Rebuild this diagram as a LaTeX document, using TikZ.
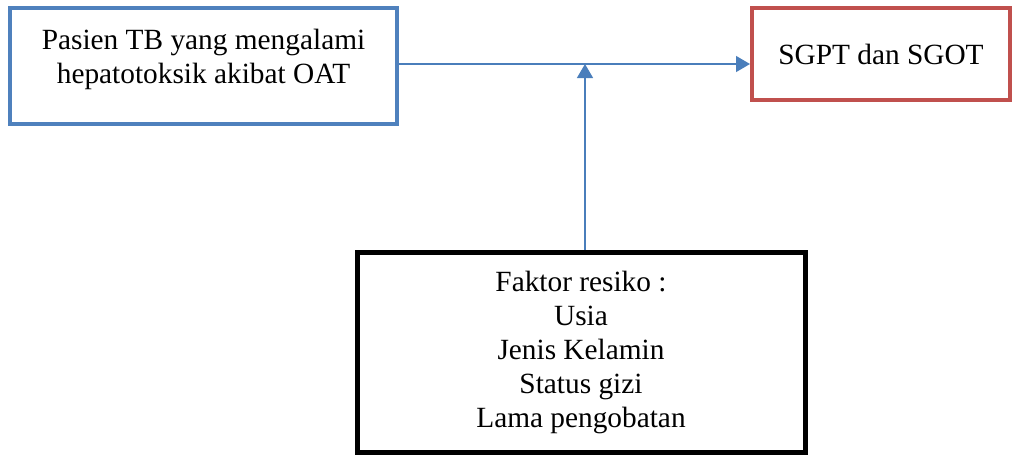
\documentclass[tikz,border=0pt]{standalone}
\usepackage{fontspec}
\setmainfont{Liberation Serif}
\usepackage{tikz}
\usetikzlibrary{arrows.meta}
\usetikzlibrary{positioning}
\definecolor{boxblue}{HTML}{4F81BD}
\definecolor{boxred}{HTML}{C0504D}
\definecolor{lineblue}{HTML}{4A7EBB}

\begin{document}
\begin{tikzpicture}[
x=0.75pt, y=-0.75pt,
BlueBox/.style={draw=boxblue,line width=3pt,align=center,minimum width=290.25pt,minimum height=87pt,inner sep=0pt},
RedBox/.style={draw=boxred,line width=3pt,align=center,minimum width=193.5pt,minimum height=69pt,inner sep=0pt},
BlackBox/.style={draw=black,line width=3.75pt,align=center,minimum width=336pt,minimum height=150pt,inner sep=0pt},
Connector/.style={draw=lineblue,line width=1pt,-{Triangle[length=10.5pt,width=12pt]}},
every node/.style={font=\fontsize{22}{25.5}\selectfont}
]
\useasboundingbox (0,0) rectangle (1018,454);

% boxes
\node[BlueBox, text depth=15pt] (pasien) at (203.5,66) {Pasien TB yang mengalami\\hepatotoksik akibat OAT};
\node[RedBox] (sgpt) at (881,54) {SGPT dan SGOT};
\node[BlackBox] (faktor) at (581,352) {Faktor resiko :\\Usia\\Jenis Kelamin\\Status gizi\\Lama pengobatan};

\coordinate (join) at (585,64);

% arrows
\draw[Connector] (pasien.east |- join) -- (join -| sgpt.west);
\draw[Connector] (faktor.north -| join) -- (join);

\end{tikzpicture}
\end{document}
